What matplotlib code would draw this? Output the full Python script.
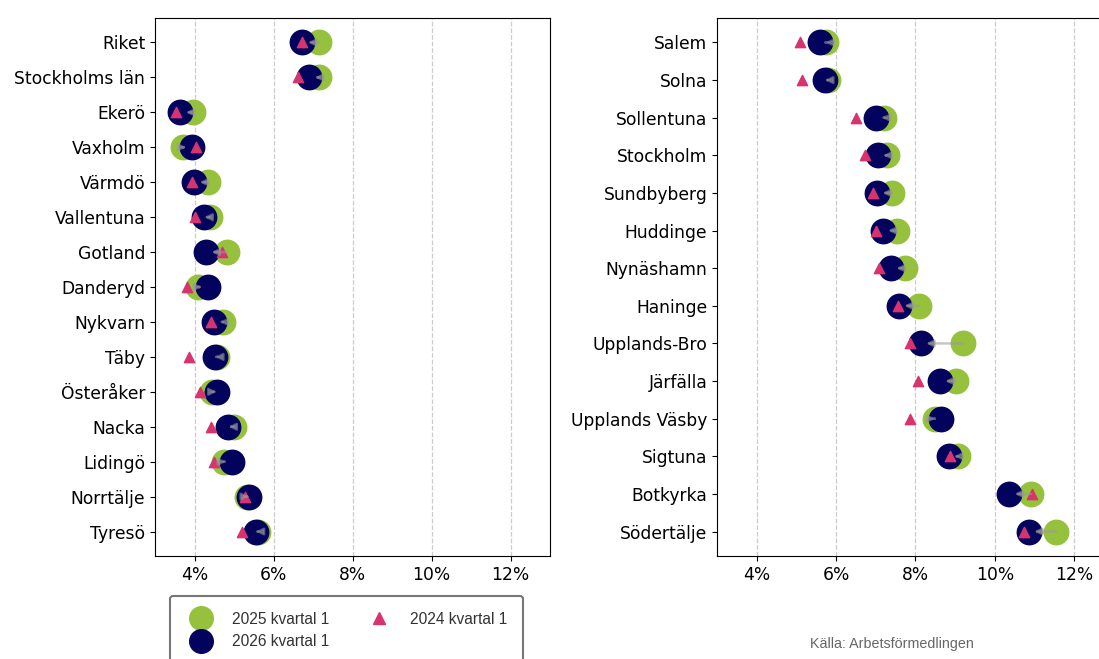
import matplotlib.pyplot as plt
from matplotlib.ticker import FuncFormatter
from matplotlib.lines import Line2D

# Left panel: riket, län and the smaller municipalities
left_names = ['Riket', 'Stockholms län', 'Ekerö', 'Vaxholm', 'Värmdö', 'Vallentuna',
              'Gotland', 'Danderyd', 'Nykvarn', 'Täby', 'Österåker', 'Nacka',
              'Lidingö', 'Norrtälje', 'Tyresö']
left_2024 = [6.73, 6.63, 3.54, 4.03, 3.93, 4.00, 4.69, 3.81, 4.41, 3.86, 4.14, 4.41, 4.50, 5.29, 5.19]
left_2025 = [7.14, 7.15, 3.96, 3.70, 4.34, 4.38, 4.83, 4.10, 4.71, 4.56, 4.44, 5.00, 4.75, 5.32, 5.61]
left_2026 = [6.73, 6.91, 3.64, 3.93, 3.99, 4.25, 4.29, 4.33, 4.50, 4.52, 4.56, 4.86, 4.94, 5.38, 5.55]

# Right panel
right_names = ['Salem', 'Solna', 'Sollentuna', 'Stockholm', 'Sundbyberg', 'Huddinge',
               'Nynäshamn', 'Haninge', 'Upplands-Bro', 'Järfälla', 'Upplands Väsby',
               'Sigtuna', 'Botkyrka', 'Södertälje']
right_2024 = [5.09, 5.15, 6.49, 6.72, 6.92, 7.01, 7.07, 7.56, 7.87, 8.07, 7.87, 8.88, 10.93, 10.73]
right_2025 = [5.74, 5.80, 7.22, 7.28, 7.41, 7.54, 7.74, 8.08, 9.21, 9.01, 8.48, 9.07, 10.91, 11.55]
right_2026 = [5.59, 5.72, 7.01, 7.05, 7.03, 7.17, 7.38, 7.58, 8.13, 8.61, 8.64, 8.84, 10.36, 10.85]

green = '#95c13d'
navy = '#03035e'
pink = '#d7336f'

fig = plt.figure(figsize=(10.99, 6.59), dpi=100)
ax1 = fig.add_axes([155 / 1099, 1 - 556 / 659, 395 / 1099, 538 / 659])
ax2 = fig.add_axes([717 / 1099, 1 - 556 / 659, 385 / 1099, 538 / 659])


def draw_panel(ax, names, v24, v25, v26, xmax):
    y = list(range(len(names)))
    ax.scatter(v25, y, s=310, color=green, zorder=3)
    ax.scatter(v26, y, s=310, color=navy, zorder=4)
    ax.scatter(v24, y, s=55, marker='^', color=pink, zorder=5)
    # gray arrow from 2025 to 2026
    for yi, a, b in zip(y, v25, v26):
        ax.annotate('', xy=(b, yi), xytext=(a, yi),
                    arrowprops=dict(arrowstyle='-|>', color='#999999', alpha=0.55,
                                    lw=1.8, mutation_scale=10, shrinkA=0, shrinkB=4),
                    zorder=6)
    ax.set_yticks(y)
    ax.set_yticklabels(names, fontsize=12.3)
    ax.invert_yaxis()
    ax.set_xlim(3, xmax)
    ax.set_xticks([4, 6, 8, 10, 12])
    ax.xaxis.set_major_formatter(FuncFormatter(lambda v, p: f'{v:.0f}%'))
    ax.tick_params(axis='x', labelsize=12.3)
    ax.grid(axis='x', linestyle='--', color='#cccccc', lw=0.9, zorder=0)
    ax.set_axisbelow(True)


draw_panel(ax1, left_names, left_2024, left_2025, left_2026, 13)
draw_panel(ax2, right_names, right_2024, right_2025, right_2026, 12.7)

handles = [
    Line2D([], [], marker='o', ls='', color=green, markersize=17),
    Line2D([], [], marker='o', ls='', color=navy, markersize=17),
    Line2D([], [], marker='^', ls='', color=pink, markersize=8),
]
labels = ['2025 kvartal 1', '2026 kvartal 1', '2024 kvartal 1']
leg = fig.legend(handles, labels, ncol=2, loc='upper left',
                 bbox_to_anchor=(170 / 1099, 1 - 596 / 659),
                 prop={'family': 'Liberation Sans', 'size': 11.2},
                 frameon=True, edgecolor='#555555', fancybox=True,
                 borderpad=1.0, columnspacing=2.2, handletextpad=1.0,
                 labelspacing=0.5, borderaxespad=0)
leg.get_frame().set_linewidth(1.5)
for t in leg.get_texts():
    t.set_color('#333333')

fig.text(810 / 1099, 1 - 644 / 659, 'Källa: Arbetsförmedlingen', fontsize=10.3,
         color='#666666', family='Liberation Sans', va='center')

fig.savefig('out.png', dpi=100)
